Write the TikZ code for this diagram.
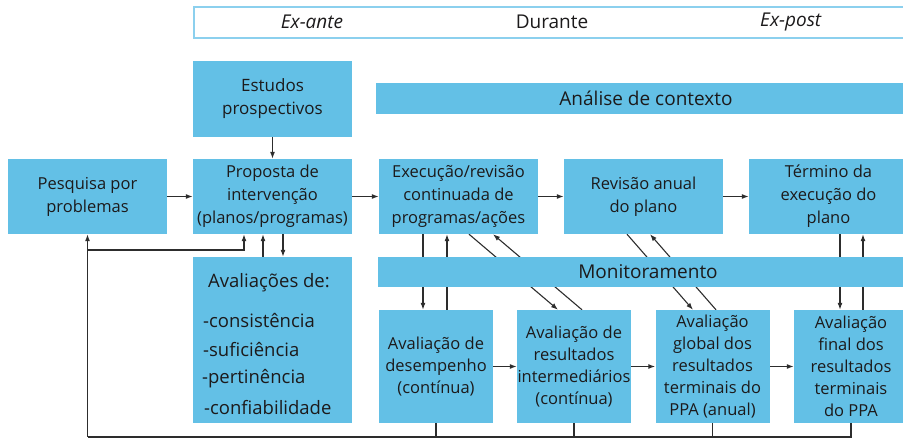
\documentclass[tikz,border=0pt]{standalone}
\usepackage{fontspec}
\setmainfont{Open Sans}
\usetikzlibrary{arrows.meta,backgrounds}
\definecolor{caixa}{RGB}{99,192,230}
\definecolor{borda}{RGB}{140,208,238}
\definecolor{texto}{RGB}{28,26,27}
\definecolor{linha}{RGB}{45,45,45}
\begin{document}
\begin{tikzpicture}[x=1pt,y=-1pt,
    box/.style={fill=caixa,inner sep=0pt,align=center,text=texto,font=\fontsize{16.5}{23}\selectfont},
    baixo/.style={box,font=\fontsize{16.5}{22}\selectfont,minimum width=114pt,minimum height=113pt},
    faixa/.style={box,font=\fontsize{19}{22}\selectfont},
    lista/.style={anchor=west,inner sep=0pt,text=texto,font=\fontsize{18.5}{22}\selectfont},
    cab/.style={inner sep=0pt,text=texto,font=\fontsize{19}{22}\selectfont},
    seta/.style={draw=linha,line width=1.1pt,-{Latex[length=7pt,width=5pt]}},
    fio/.style={draw=linha,line width=1.1pt}]
  \useasboundingbox (0,0) rectangle (903,438);

  \node [draw=borda,line width=1.5pt,minimum width=712pt,minimum height=31pt] (Per) at (550,22.5) {};
  \node [cab] (ExA) at (312,22) {\textit{Ex-ante}};
  \node [cab] (Dur) at (552,22) {Durante};
  \node [cab] (ExP) at (791,22) {\textit{Ex-post}};

  \node [box,font=\fontsize{17}{23}\selectfont,minimum width=159pt,minimum height=76pt] (Est) at (272.5,99) {Estudos\\prospectivos};
  \node [faixa,minimum width=540pt,minimum height=31pt] (Ctx) at (646,98.5) {Análise de contexto};

  \node [box,minimum width=159pt,minimum height=75pt] (Pesq) at (87.5,196.5) {Pesquisa por\\problemas};
  \node [box,minimum width=159pt,minimum height=75pt] (Prop) at (272.5,196.5) {Proposta de\\intervenção\\(planos/programas)};
  \node [box,minimum width=159pt,minimum height=75pt] (Exec) at (458.5,196.5) {Execução/revisão\\continuada de\\programas/ações};
  \node [box,minimum width=159pt,minimum height=75pt] (Rev) at (643.5,196.5) {Revisão anual\\do plano};
  \node [box,minimum width=159pt,minimum height=75pt] (Term) at (828.5,196.5) {Término da\\execução do\\plano};

  \node [faixa,minimum width=540pt,minimum height=30pt] (Mon) at (648,272) {Monitoramento};

  \node [box,minimum width=159pt,minimum height=166pt] (Aval) at (272.5,340) {};
  \node [lista,anchor=center] (AvalT) at (269,283) {Avaliações de:};
  \node [lista] (Cons) at (203,321) {-consistência};
  \node [lista] (Suf) at (203,350) {-suficiência};
  \node [lista] (Pert) at (202,379) {-pertinência};
  \node [lista] (Conf) at (204,408) {-confiabilidade};

  \node [baixo] (Des) at (436,366.5) {Avaliação de\\desempenho\\(contínua)};
  \node [baixo] (Int) at (574,366.5) {Avaliação de\\resultados\\intermediários\\(contínua)};
  \node [baixo] (Glob) at (712.5,366.5) {Avaliação\\global dos\\resultados\\terminais do\\PPA (anual)};
  \node [baixo] (Fin) at (851,366.5) {Avaliação\\final dos\\resultados\\terminais\\do PPA};

  \coordinate (fb) at (87.5,437);
  \coordinate (ramo) at (87.5,250);

  \begin{pgfonlayer}{background}
    \draw [seta] (Est) -- (Prop);
    \draw [seta] (Pesq) -- (Prop);
    \draw [seta] (Prop) -- (Exec);
    \draw [seta] (Exec) -- (Rev);
    \draw [seta] (Rev) -- (Term);
    \draw [seta] (Des) -- (Int);
    \draw [seta] (Int) -- (Glob);
    \draw [seta] (Glob) -- (Fin);

    \draw [seta] ([xshift=10.5pt]Prop.south) -- ([xshift=10.5pt]Aval.north);
    \draw [seta] ([xshift=-9.5pt]Aval.north) -- ([xshift=-9.5pt]Prop.south);

    \draw [seta] ([xshift=-35.5pt]Exec.south) -- ([xshift=-13pt]Des.north);
    \draw [seta] ([xshift=11pt]Des.north) -- ([xshift=-11.5pt]Exec.south);
    \draw [seta] ([xshift=10.5pt]Exec.south) -- ([xshift=-16pt]Int.north);
    \draw [seta] ([xshift=8pt]Int.north) -- ([xshift=34.5pt]Exec.south);
    \draw [seta] ([xshift=-16.5pt]Rev.south) -- ([xshift=-19.5pt]Glob.north);
    \draw [seta] ([xshift=3.5pt]Glob.north) -- ([xshift=6.5pt]Rev.south);
    \draw [seta] ([xshift=11.5pt]Term.south) -- ([xshift=-11pt]Fin.north);
    \draw [seta] ([xshift=12pt]Fin.north) -- ([xshift=34.5pt]Term.south);

    \draw [fio] (Des.south) |- (fb);
    \draw [fio] (Int.south) |- (fb);
    \draw [fio] (Glob.south) |- (fb);
    \draw [fio] (Fin.south) |- (fb);
    \draw [seta] (fb) -- (Pesq.south);
    \draw [seta] (ramo) -| ([xshift=-28.5pt]Prop.south);
  \end{pgfonlayer}
\end{tikzpicture}
\end{document}
